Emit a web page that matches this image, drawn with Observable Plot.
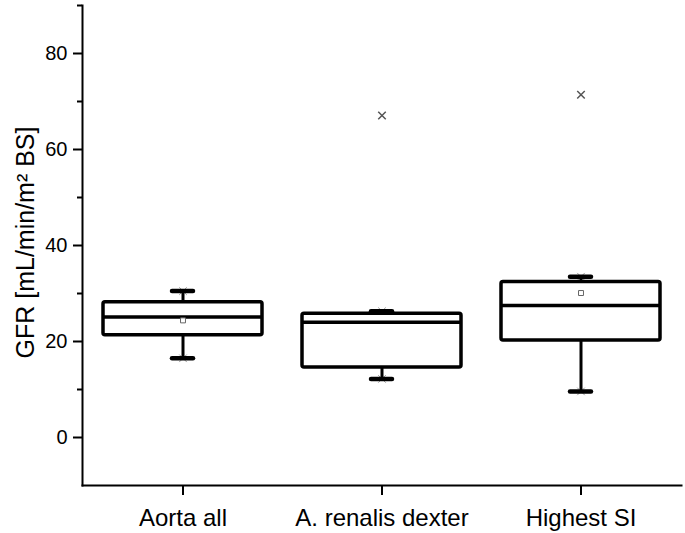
<!DOCTYPE html>
<html>
<head>
<meta charset="utf-8">
<script src="https://cdn.jsdelivr.net/npm/d3@7"></script>
<script src="https://cdn.jsdelivr.net/npm/@observablehq/plot@0.6"></script>
<style>
  html, body { margin: 0; padding: 0; background: #fff; }
</style>
</head>
<body>
<div id="chart"></div>
<script>
// Data
const groups = ["Aorta all", "A. renalis dexter", "Highest SI"];
const whiskerLow = [16.5, 12.2, 9.6];
const q1 = [21.3, 14.6, 20.2];
const median = [25.1, 24.0, 27.5];
const q3 = [28.2, 25.8, 32.4];
const whiskerHigh = [30.5, 26.3, 33.5];
const meanGroups = ["Aorta all", "Highest SI"];
const meanValues = [24.4, 30.1];
const outlierGroups = ["A. renalis dexter", "Highest SI"];
const outlierValues = [67.1, 71.4];
const majorTicks = [0, 20, 40, 60, 80];
const minorTicks = [10, 30, 50, 70, 90];
const yLabel = "GFR [mL/min/m\u00B2 BS]";

const boxes = groups.map((g, i) => ({
  group: g, lo: whiskerLow[i], q1: q1[i], median: median[i], q3: q3[i], hi: whiskerHigh[i]
}));
const means = meanGroups.map((g, i) => ({group: g, value: meanValues[i]}));
const outliers = outlierGroups.map((g, i) => ({group: g, value: outlierValues[i]}));

const chart = Plot.plot({
  width: 685,
  height: 533,
  marginLeft: 82,
  marginRight: 4,
  marginTop: 5,
  marginBottom: 48,
  style: {fontFamily: "'Liberation Sans', Arial, sans-serif", background: "#fff", color: "#000"},
  x: {type: "band", domain: groups, padding: 0, label: null},
  y: {domain: [-10, 90], label: null},
  marks: [
    Plot.frame({anchor: "left", strokeWidth: 2}),
    Plot.frame({anchor: "bottom", strokeWidth: 2}),
    Plot.axisY({ticks: majorTicks, tickSize: 9, tickPadding: 6, fontSize: 20, strokeWidth: 2, label: null}),
    Plot.axisY({ticks: minorTicks, tickSize: 5, tickFormat: () => "", strokeWidth: 2, label: null}),
    Plot.axisX({tickSize: 10, tickPadding: 13, fontSize: 24, strokeWidth: 2, label: null}),
    Plot.text([yLabel], {frameAnchor: "left", textAnchor: "middle", rotate: -90, dx: -57, dy: -3, fontSize: 25, fill: "#000"}),
    // whiskers
    Plot.ruleX(boxes, {x: "group", y1: "q3", y2: "hi", strokeWidth: 3}),
    Plot.ruleX(boxes, {x: "group", y1: "lo", y2: "q1", strokeWidth: 3}),
    Plot.dot(boxes, {x: "group", y: "lo", symbol: "times", r: 3.5, stroke: "#999", strokeWidth: 1}),
    Plot.dot(boxes, {x: "group", y: "hi", symbol: "times", r: 3.5, stroke: "#999", strokeWidth: 1}),
    Plot.tickY(boxes, {x: "group", y: "lo", insetLeft: 89, insetRight: 89, strokeWidth: 4.5, strokeLinecap: "round"}),
    Plot.tickY(boxes, {x: "group", y: "hi", insetLeft: 89, insetRight: 89, strokeWidth: 4.5, strokeLinecap: "round"}),
    // boxes
    Plot.barY(boxes, {x: "group", y1: "q1", y2: "q3", insetLeft: 20, insetRight: 20, fill: "#fff", stroke: "#000", strokeWidth: 3.5, rx: 2}),
    Plot.tickY(boxes, {x: "group", y: "median", insetLeft: 20, insetRight: 20, strokeWidth: 3.5}),
    // means
    Plot.dot(means, {x: "group", y: "value", symbol: "square", r: 2.8, stroke: "#666", fill: "#fff", strokeWidth: 1}),
    // outliers
    Plot.dot(outliers, {x: "group", y: "value", symbol: "times", r: 3.5, stroke: "#555", strokeWidth: 1.5})
  ]
});
document.getElementById("chart").appendChild(chart);
</script>
</body>
</html>
